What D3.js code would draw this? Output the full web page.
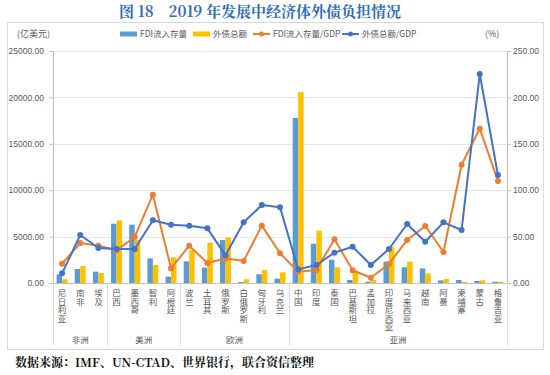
<!DOCTYPE html>
<html><head><meta charset="utf-8">
<script src="https://cdn.jsdelivr.net/npm/d3@7"></script>
<style>
html,body{margin:0;padding:0;background:#fff;}
svg{display:block;}
text{font-family:"Noto Sans CJK SC","Noto Sans",sans-serif;}
</style></head>
<body>
<svg id="chart" width="550" height="375"></svg>
<script>
const categories = ["尼日利亚","南非","埃及","巴西","墨西哥","智利","阿根廷","波兰","土耳其","俄罗斯","白俄罗斯","匈牙利","乌克兰","中国","印度","泰国","巴基斯坦","孟加拉","印度尼西亚","马来西亚","越南","阿曼","柬埔寨","蒙古","格鲁吉亚"];
const regionNames = ["非洲","美洲","欧洲","亚洲"];
const regionCounts = [3,4,6,12];
const fdiStock = [937,1508,1220,6390,6285,2660,680,2335,1650,4630,100,937,467,17780,4235,2510,323,140,2300,1690,1580,290,323,215,140];
const extDebt = [400,1830,1077,6750,4630,1940,2770,3520,4340,4920,400,1400,1150,20580,5640,1690,1350,320,3910,2300,1045,430,108,290,140];
const fdiGdp = [20.8,43.1,40.2,35.2,49.6,95.2,15.8,40.2,21.6,26.6,23.7,61.8,32.0,12.2,14.0,47.1,13.7,5.7,20.5,46.3,61.4,33.4,127.5,166.3,110.0];
const debtGdp = [10.4,51.7,37.7,36.6,36.6,67.6,62.8,61.8,58.9,29.8,65.4,84.0,81.6,14.7,19.4,32.7,39.1,19.4,36.6,63.6,44.5,65.4,57.1,225.2,116.4];
const leftTicks = [0,5000,10000,15000,20000,25000];
const rightTicks = [0,50,100,150,200,250];
const seriesNames = ["FDI流入存量","外债总额","FDI流入存量/GDP","外债总额/GDP"];
const title = "图 18　2019 年发展中经济体外债负担情况";
const source = "数据来源：IMF、UN-CTAD、世界银行，联合资信整理";

const C = {blueBar:"#5B9BD5", yellowBar:"#FFC000", orange:"#ED7D31", blueLine:"#4472C4", text:"#595959", grid:"#D9D9D9"};
const svg = d3.select("#chart");
const L = 53, R = 507, T = 51, B = 283;

const x = d3.scaleBand().domain(categories).range([L,R]).padding(0);
const yL = d3.scaleLinear().domain([0,25000]).range([B,T]);
const yR = d3.scaleLinear().domain([0,250]).range([B,T]);

// title
svg.append("text").attr("x",260).attr("y",17).attr("text-anchor","middle")
  .attr("font-size",15).attr("font-weight","bold").attr("fill","#2F6EBA")
  .style("font-family","'Noto Serif CJK SC','Noto Sans CJK SC',serif").text(title);

// box
svg.append("rect").attr("x",7.5).attr("y",22.5).attr("width",536).attr("height",327)
  .attr("fill","none").attr("stroke","#D9D9D9");

// grid
svg.append("g").selectAll("line").data(leftTicks.slice(1)).join("line")
  .attr("x1",L).attr("x2",R).attr("y1",d=>Math.round(yL(d))+0.5).attr("y2",d=>Math.round(yL(d))+0.5)
  .attr("stroke","#E6E6E6");

// axes
const axL = svg.append("g").attr("transform",`translate(${L},0)`)
  .call(d3.axisLeft(yL).tickValues(leftTicks).tickFormat(d3.format(".2f")).tickSize(4));
const axR = svg.append("g").attr("transform",`translate(${R},0)`)
  .call(d3.axisRight(yR).tickValues(rightTicks).tickFormat(d3.format(".2f")).tickSize(4));
[axL,axR].forEach(a=>{
  a.select(".domain").attr("stroke","#BFBFBF");
  a.selectAll(".tick line").attr("stroke","#BFBFBF");
  a.selectAll(".tick text").attr("fill",C.text).attr("font-size",8.5)
    .style("font-family","'Liberation Sans',Arial,sans-serif");
});
axL.selectAll(".tick text").attr("x",-9);
axR.selectAll(".tick text").attr("x",6);

// bars
const bw = 5.5;
svg.append("g").selectAll("rect").data(fdiStock).join("rect")
  .attr("x",(d,i)=>x(categories[i])+x.bandwidth()/2-bw).attr("width",bw)
  .attr("y",d=>yL(d)).attr("height",d=>B-yL(d)).attr("fill",C.blueBar);
svg.append("g").selectAll("rect").data(extDebt).join("rect")
  .attr("x",(d,i)=>x(categories[i])+x.bandwidth()/2).attr("width",bw)
  .attr("y",d=>yL(d)).attr("height",d=>B-yL(d)).attr("fill",C.yellowBar);

// x axis baseline
svg.append("line").attr("x1",L).attr("x2",R).attr("y1",B+0.5).attr("y2",B+0.5).attr("stroke","#BFBFBF");

// lines
function drawLine(vals,color){
  const line = d3.line().x((d,i)=>x(categories[i])+x.bandwidth()/2).y(d=>yR(d));
  svg.append("path").datum(vals).attr("d",line).attr("fill","none")
    .attr("stroke",color).attr("stroke-width",2).attr("stroke-linejoin","round");
  svg.append("g").selectAll("circle").data(vals).join("circle")
    .attr("cx",(d,i)=>x(categories[i])+x.bandwidth()/2).attr("cy",d=>yR(d))
    .attr("r",3).attr("fill",color);
}
drawLine(fdiGdp,C.orange);
drawLine(debtGdp,C.blueLine);

// category labels (vertical)
svg.append("g").selectAll("text").data(categories).join("text")
  .attr("x",d=>x(d)+x.bandwidth()/2).attr("y",289)
  .style("writing-mode","vertical-rl").style("text-orientation","upright")
  .attr("font-size",8.5).attr("fill",C.text).text(d=>d);

// region separators and labels
let idx = 0;
const bounds = [0];
regionCounts.forEach(c=>{idx+=c;bounds.push(idx);});
svg.append("g").selectAll("line").data(bounds).join("line")
  .attr("x1",d=>Math.round(d===categories.length? R : x(categories[d])) + 0.5)
  .attr("x2",d=>Math.round(d===categories.length? R : x(categories[d])) + 0.5)
  .attr("y1",B).attr("y2",345).attr("stroke","#D9D9D9");
svg.append("g").selectAll("text").data(regionNames).join("text")
  .attr("x",(d,i)=>{
    const a = x(categories[bounds[i]]);
    const b = bounds[i+1]===categories.length ? R : x(categories[bounds[i+1]]);
    return (a+b)/2;
  }).attr("y",343).attr("text-anchor","middle").attr("font-size",8.5).attr("fill",C.text).text(d=>d);

// axis unit labels
svg.append("text").attr("x",17).attr("y",37).attr("font-size",9).attr("fill",C.text).text("(亿美元)");
svg.append("text").attr("x",485).attr("y",37).attr("font-size",9).attr("fill",C.text).text("(%)");

// legend
const lg = svg.append("g");
const legendX = [120,193,253,342];
seriesNames.forEach((n,i)=>{
  const g = lg.append("g").attr("transform",`translate(${legendX[i]},34)`);
  if(i<2){
    g.append("rect").attr("x",0).attr("y",-2.5).attr("width",17).attr("height",5)
      .attr("fill",i===0?C.blueBar:C.yellowBar);
  } else {
    const col = i===2?C.orange:C.blueLine;
    g.append("line").attr("x1",0).attr("x2",17).attr("y1",0).attr("y2",0).attr("stroke",col).attr("stroke-width",2);
    g.append("circle").attr("cx",8.5).attr("cy",0).attr("r",2.5).attr("fill",col);
  }
  g.append("text").attr("x",20).attr("y",3).attr("font-size",8.5).attr("fill",C.text).text(n);
});

// source
svg.append("text").attr("x",15).attr("y",367).attr("font-size",12).attr("font-weight","bold").attr("fill","#111")
  .style("font-family","'Noto Serif CJK SC','Noto Sans CJK SC',serif").text(source);
</script>
</body></html>
